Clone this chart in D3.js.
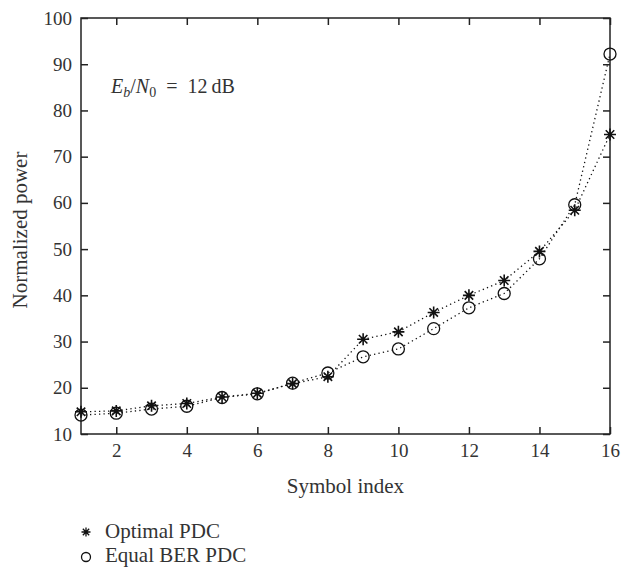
<!DOCTYPE html>
<html lang="en">
<head>
    <meta charset="UTF-8">
    <title>Normalized power</title>
    <script src="https://d3js.org/d3.v7.min.js"></script>
    <style>
        body { margin: 0; background: #fff; }
        text { font-family: "Liberation Serif", "DejaVu Serif", serif; fill: #333; }
    </style>
</head>
<body>
<svg width="634" height="569"></svg>

<script>
    var symbolIdx = [1, 2, 3, 4, 5, 6, 7, 8, 9, 10, 11, 12, 13, 14, 15, 16];
    var optimalPdc = [14.8, 15.0, 16.1, 16.6, 18.0, 18.8, 20.9, 22.4, 30.5, 32.1, 36.3, 40.0, 43.2, 49.5, 58.4, 74.8];
    var equalBerPdc = [14.1, 14.5, 15.4, 16.0, 17.9, 18.7, 21.0, 23.2, 26.7, 28.4, 32.8, 37.3, 40.4, 47.9, 59.6, 92.2];
    var xTicks = [2, 4, 6, 8, 10, 12, 14, 16];
    var yTicks = [10, 20, 30, 40, 50, 60, 70, 80, 90, 100];

    var svg = d3.select("svg");
    var plotL = 81, plotT = 18, plotR = 610, plotB = 434;

    var x = d3.scaleLinear().domain([1, 16]).range([plotL, plotR]);
    var y = d3.scaleLinear().domain([10, 100]).range([plotB, plotT]);

    // frame
    svg.append("rect")
        .attr("x", plotL).attr("y", plotT)
        .attr("width", plotR - plotL).attr("height", plotB - plotT)
        .attr("fill", "none").attr("stroke", "#222").attr("stroke-width", 1.5);

    // axes, ticks pointing inward
    var tk = 7;
    svg.append("g").attr("transform", "translate(0," + plotB + ")")
        .call(d3.axisBottom(x).tickValues(xTicks).tickSizeInner(-tk).tickSizeOuter(0).tickPadding(10))
        .call(function (g) { g.select(".domain").remove(); });
    svg.append("g").attr("transform", "translate(0," + plotT + ")")
        .call(d3.axisTop(x).tickValues(xTicks).tickSizeInner(-tk).tickSizeOuter(0).tickFormat(""))
        .call(function (g) { g.select(".domain").remove(); });
    svg.append("g").attr("transform", "translate(" + plotL + ",0)")
        .call(d3.axisLeft(y).tickValues(yTicks).tickSizeInner(-tk).tickSizeOuter(0).tickPadding(9))
        .call(function (g) { g.select(".domain").remove(); });
    svg.append("g").attr("transform", "translate(" + plotR + ",0)")
        .call(d3.axisRight(y).tickValues(yTicks).tickSizeInner(-tk).tickSizeOuter(0).tickFormat(""))
        .call(function (g) { g.select(".domain").remove(); });

    svg.selectAll(".tick line").attr("stroke", "#222").attr("stroke-width", 1.5);
    svg.selectAll(".tick text").attr("fill", "#333").style("font-size", "19px")
        .style("font-family", "'Liberation Serif', serif");

    // axis titles
    svg.append("text")
        .attr("x", (plotL + plotR) / 2).attr("y", 493)
        .attr("text-anchor", "middle").style("font-size", "21px")
        .text("Symbol index");
    svg.append("text")
        .attr("transform", "translate(27,230) rotate(-90)")
        .attr("text-anchor", "middle").style("font-size", "21px")
        .text("Normalized power");

    // annotation
    var ann = svg.append("text").attr("x", 111).attr("y", 93).style("font-size", "20px");
    ann.append("tspan").style("font-style", "italic").text("E");
    ann.append("tspan").style("font-style", "italic").style("font-size", "14px").attr("dy", 4).text("b");
    ann.append("tspan").attr("dy", -4).text("/");
    ann.append("tspan").style("font-style", "italic").text("N");
    ann.append("tspan").style("font-size", "14px").attr("dy", 4).text("0");
    ann.append("tspan").attr("dy", -4).text("\u2002=\u200212\u2009dB");

    var line = d3.line()
        .x(function (d, i) { return x(symbolIdx[i]); })
        .y(function (d) { return y(d); });

    [optimalPdc, equalBerPdc].forEach(function (s) {
        svg.append("path")
            .datum(s)
            .attr("d", line)
            .attr("fill", "none")
            .attr("stroke", "#111")
            .attr("stroke-width", 1.3)
            .attr("stroke-dasharray", "1.3,3.2");
    });

    function asterisk(r) {
        var d = r * 0.7071;
        return "M" + (-r) + ",0L" + r + ",0M0," + (-r) + "L0," + r +
            "M" + (-d) + "," + (-d) + "L" + d + "," + d +
            "M" + (-d) + "," + d + "L" + d + "," + (-d);
    }

    svg.append("g").selectAll("circle")
        .data(equalBerPdc)
        .enter().append("circle")
        .attr("cx", function (d, i) { return x(symbolIdx[i]); })
        .attr("cy", function (d) { return y(d); })
        .attr("r", 6)
        .attr("fill", "none")
        .attr("stroke", "#111")
        .attr("stroke-width", 1.3);

    svg.append("g").selectAll("path")
        .data(optimalPdc)
        .enter().append("path")
        .attr("transform", function (d, i) { return "translate(" + x(symbolIdx[i]) + "," + y(d) + ")"; })
        .attr("d", asterisk(6))
        .attr("stroke", "#111")
        .attr("stroke-width", 1.6);

    // legend
    var legend = svg.append("g");
    legend.append("path")
        .attr("transform", "translate(86,532)")
        .attr("d", asterisk(4.5))
        .attr("stroke", "#111").attr("stroke-width", 1.3);
    legend.append("text").attr("x", 105).attr("y", 538).style("font-size", "21px").text("Optimal PDC");
    legend.append("circle")
        .attr("cx", 86).attr("cy", 557).attr("r", 4.5)
        .attr("fill", "none").attr("stroke", "#111").attr("stroke-width", 1.3);
    legend.append("text").attr("x", 105).attr("y", 562).style("font-size", "21px").text("Equal BER PDC");
</script>
</body>
</html>
